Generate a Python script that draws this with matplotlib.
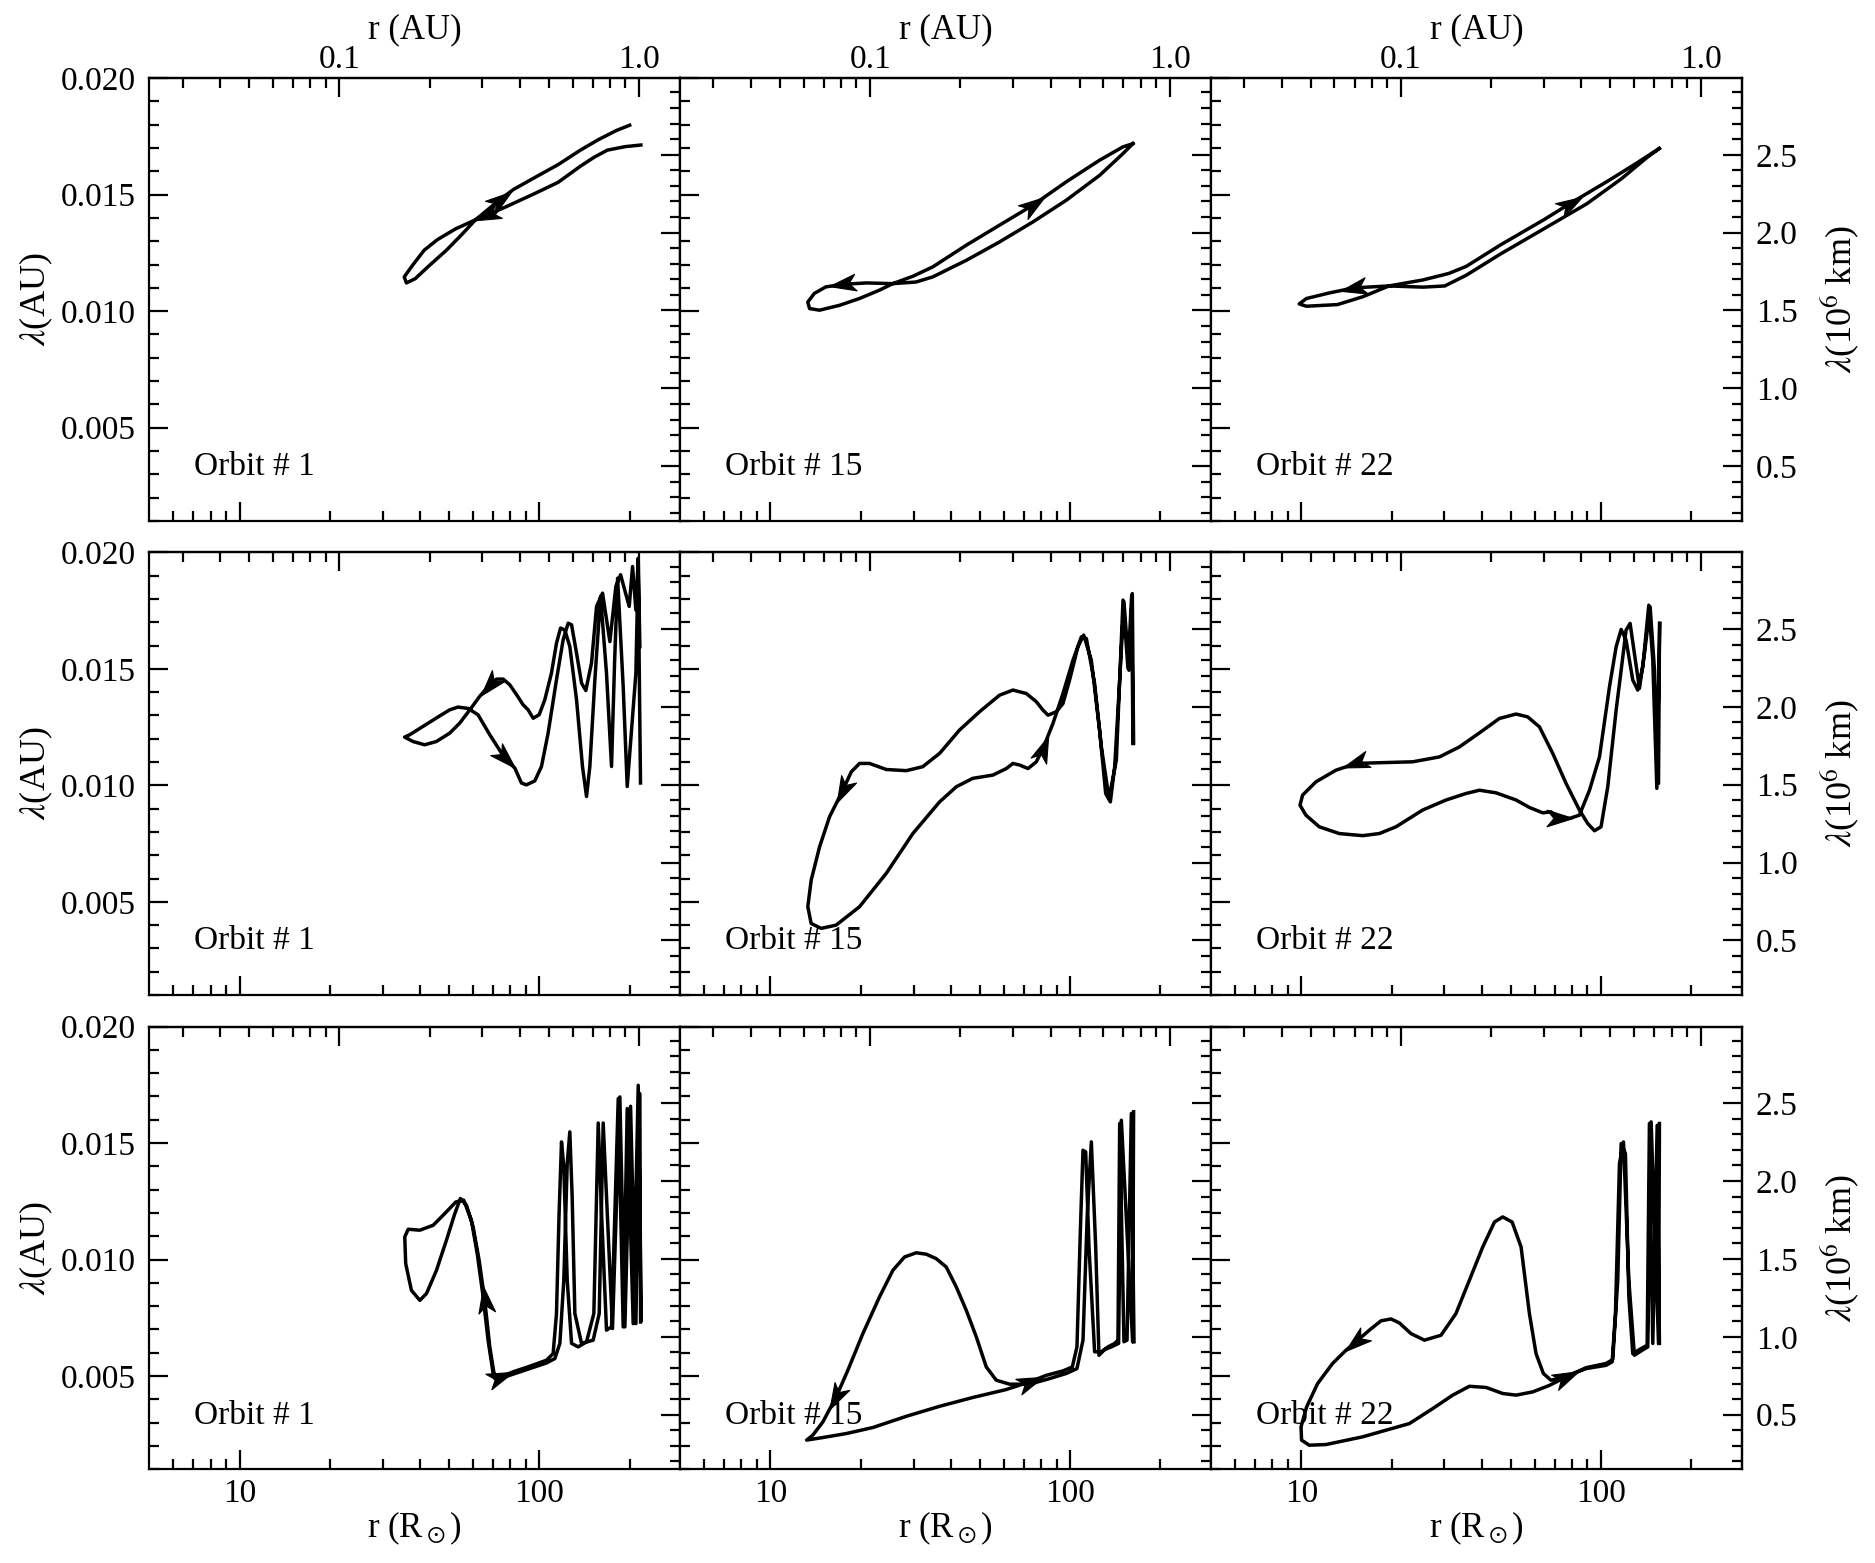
import numpy as np
import matplotlib
matplotlib.use('Agg')
import matplotlib.pyplot as plt
from matplotlib.ticker import MultipleLocator, NullFormatter
from matplotlib.path import Path
from matplotlib.markers import MarkerStyle
from matplotlib.transforms import Affine2D

plt.rcParams['font.family'] = ['Liberation Serif', 'DejaVu Serif']
plt.rcParams['mathtext.fontset'] = 'stix'
plt.rcParams['font.size'] = 12

R_AU = 215.03     # solar radii per AU
KM_AU = 149.598   # 10^6 km per AU

orbits = ['1', '15', '22']

# ---- row 1 ----
r11 = [218, 193.2, 168.5, 152, 137, 115.5, 97.3, 76.5, 66.7, 61.2, 52.5, 45.7, 41.3, 37.9, 35.4, 36.0,
       38.5, 42.7, 49.0, 55.2, 61.2, 73.9, 81.9, 97.3, 115.5, 137, 157.3, 180.4, 200]
l11 = [0.01713, 0.01706, 0.01691, 0.01660, 0.01622, 0.01553, 0.01507, 0.01445, 0.01412, 0.01392, 0.01353,
       0.01307, 0.01262, 0.01200, 0.01147, 0.01121, 0.01139, 0.01193, 0.01262, 0.01330, 0.01392, 0.01479,
       0.01522, 0.01576, 0.01629, 0.01691, 0.01736, 0.01775, 0.01798]
a11 = [8, 21]

r12 = [161.9, 149.9, 125.4, 97.0, 75.1, 58.1, 45.0, 34.8, 30.6, 25.6, 20.9, 17.4, 15.3, 14.0, 13.32, 13.5,
       14.58, 17.0, 19.8, 23.1, 25.6, 29.9, 34.8, 45.0, 58.1, 75.1, 97.0, 125.4, 149.9, 161.9]
l12 = [0.01719, 0.01676, 0.01583, 0.01476, 0.01383, 0.01297, 0.01218, 0.01147, 0.01125, 0.01118, 0.01121,
       0.01115, 0.01104, 0.01076, 0.01039, 0.01011, 0.01004, 0.01025, 0.01054, 0.01090, 0.01118, 0.01150,
       0.01190, 0.01283, 0.01369, 0.01455, 0.01555, 0.01648, 0.01705, 0.01719]
a12 = [11, 25]

r13 = [156.4, 142.5, 116.9, 89.7, 64.4, 46.3, 35.5, 30.1, 25.5, 19.6, 15.0, 12.3, 10.4, 9.84, 10.4, 13.2,
       16.06, 19.6, 25.5, 31.1, 35.5, 46.3, 64.4, 78.6, 105.9, 129.1, 156.4]
l13 = [0.01698, 0.01660, 0.01568, 0.01461, 0.01353, 0.01246, 0.01154, 0.01108, 0.01103, 0.01108, 0.01100,
       0.01077, 0.01054, 0.01031, 0.01021, 0.01028, 0.01062, 0.01108, 0.01134, 0.01162, 0.01192, 0.01285,
       0.01392, 0.01461, 0.01560, 0.01629, 0.01698]
a13 = [10, 23]

# ---- row 2 ----
r21 = [217.4, 215.3, 213.6, 209.8, 196.3, 190.3, 182.3, 178.1, 174.0, 167.4,
       159.9, 153.1, 147.3, 143.6, 139.2, 133.0, 126.3, 121.5, 117.6, 114.0,
       109.7, 104.2, 99.8, 95.3, 91.7, 88.2, 83.9, 79.6, 75.7, 71.9,
       68.3, 63.2, 58.6, 54.2, 50.2, 45.3, 41.4, 37.9, 35.5, 36.9,
       40.9, 46.5, 50.2, 53.5, 57.8, 62.4, 68.3, 76.6, 82.8, 87.1,
       90.5, 96.5, 101.6, 106.9, 114.0, 120.0, 124.7, 128.0, 133.0, 138.2,
       142.8, 149.2, 155.1, 162.4, 171.8, 179.9, 186.5, 199.3, 204.5, 209.8,
       213.6, 216.3]
l21 = [0.01010, 0.01496, 0.01961, 0.01482, 0.00995, 0.01424, 0.01889, 0.01525, 0.01081, 0.01482,
       0.01811, 0.01453, 0.01081, 0.00952, 0.01081, 0.01367, 0.01596, 0.01667, 0.01675, 0.01610,
       0.01482, 0.01367, 0.01303, 0.01288, 0.01324, 0.01346, 0.01389, 0.01432, 0.01456, 0.01456,
       0.01432, 0.01382, 0.01324, 0.01267, 0.01224, 0.01188, 0.01174, 0.01188, 0.01207, 0.01217,
       0.01253, 0.01298, 0.01324, 0.01336, 0.01330, 0.01303, 0.01217, 0.01117, 0.01074, 0.01010,
       0.01002, 0.01019, 0.01081, 0.01224, 0.01453, 0.01625, 0.01696, 0.01689, 0.01567, 0.01439,
       0.01407, 0.01525, 0.01768, 0.01825, 0.01617, 0.01854, 0.01904, 0.01768, 0.01939, 0.01753,
       0.01975, 0.01596]
a21 = [30, 47]

r22 = [162.7, 161.1, 157.0, 151.1, 146.2, 140.7, 136.1, 131.3, 125.3, 117.6,
       110.9, 106.1, 99.5, 94.56, 89.9, 84.3, 81.1, 77.06, 71.4, 64.4,
       58.1, 49.84, 42.7, 36.65, 32.2, 28.4, 24.33, 21.40, 19.82, 18.60,
       17.43, 15.74, 14.58, 13.67, 13.32, 13.67, 14.76, 16.56, 19.82, 24.33,
       29.85, 36.65, 41.7, 47.3, 55.21, 61.2, 64.4, 67.8, 72.3, 77.06,
       81.1, 87.6, 94.56, 102.1, 108.9, 113.2, 120.6, 127.0, 134.7, 142.5,
       150.0, 155.8, 160.3, 161.9]
l22 = [0.01180, 0.01823, 0.01494, 0.01788, 0.01452, 0.01080, 0.00929, 0.00965, 0.01237, 0.01537,
       0.01645, 0.01595, 0.01452, 0.01351, 0.01316, 0.01301, 0.01323, 0.01359, 0.01394, 0.01409,
       0.01387, 0.01316, 0.01237, 0.01137, 0.01080, 0.01063, 0.01068, 0.01094, 0.01094, 0.01058,
       0.00979, 0.00865, 0.00736, 0.00593, 0.00479, 0.00407, 0.00386, 0.00400, 0.00479, 0.00622,
       0.00793, 0.00929, 0.00994, 0.01030, 0.01044, 0.01072, 0.01094, 0.01087, 0.01072, 0.01101,
       0.01158, 0.01266, 0.01394, 0.01537, 0.01637, 0.01630, 0.01437, 0.01165, 0.00944, 0.01108,
       0.01795, 0.01502, 0.01816, 0.01180]
a22 = [30, 50]

r23 = [156.7, 155.5, 150.8, 145.8, 139.6, 134.3, 129.2, 125.0, 121.2, 116.7,
       112.3, 105.3, 100.0, 95.1, 90.3, 84.7, 76.45, 69.0, 62.3, 56.9,
       52.07, 45.8, 39.28, 33.7, 28.9, 23.53, 18.2, 15.22, 13.05, 11.19,
       10.10, 9.90, 10.36, 11.48, 13.39, 16.02, 18.2, 20.70, 25.41, 30.4,
       35.45, 39.28, 44.6, 52.07, 57.68, 63.9, 68.1, 72.6, 78.45, 84.7,
       91.5, 98.8, 106.7, 112.3, 116.7, 121.2, 127.6, 132.6, 137.8, 144.3,
       148.8, 153.5, 157.0]
l23 = [0.01695, 0.01008, 0.01494, 0.01766, 0.01566, 0.01416, 0.01566, 0.01695, 0.01666, 0.01494,
       0.01323, 0.00994, 0.00822, 0.00805, 0.00836, 0.00894, 0.01008, 0.01137, 0.01251, 0.01294,
       0.01306, 0.01287, 0.01225, 0.01165, 0.01122, 0.01101, 0.01097, 0.01094, 0.01065, 0.01015,
       0.00958, 0.00915, 0.00872, 0.00822, 0.00793, 0.00784, 0.00793, 0.00822, 0.00894, 0.00937,
       0.00965, 0.00979, 0.00968, 0.00937, 0.00905, 0.00882, 0.00886, 0.00858, 0.00858, 0.00872,
       0.00979, 0.01122, 0.01423, 0.01595, 0.01669, 0.01623, 0.01452, 0.01409, 0.01509, 0.01773,
       0.01537, 0.00987, 0.01695]
a23 = [27, 47]

# ---- row 3 ----
r31 = [217.5, 216.3, 209.8, 201.4, 192.8, 185.5, 175.3, 163.2, 158.3, 151.1,
       138.2, 131.3, 128.6, 126.3, 123.8, 120.6, 117.0, 112.6, 105.6, 92.9,
       81.7, 73.8, 71.0, 68.3, 65.7, 62.93, 60.09, 57.1, 54.5, 52.2,
       48.95, 45.35, 42.0, 39.9, 37.4, 35.8, 35.54, 36.5, 39.9, 44.19,
       48.3, 52.6, 55.9, 59.3, 62.0, 64.9, 67.4, 70.1, 73.8, 81.7,
       92.9, 105.6, 111.1, 114.0, 116.3, 118.5, 120.6, 123.8, 128.0, 134.7,
       143.6, 151.9, 157.1, 161.2, 167.4, 174.0, 183.2, 190.3, 196.3, 205.5,
       213.6, 218.7]
l31 = [0.00732, 0.01712, 0.00725, 0.01658, 0.00711, 0.01698, 0.00704, 0.01586, 0.00768, 0.00654,
       0.00640, 0.00768, 0.01269, 0.01548, 0.01412, 0.00911, 0.00640, 0.00575, 0.00556, 0.00532,
       0.00508, 0.00489, 0.00489, 0.00625, 0.00825, 0.00997, 0.01140, 0.01233, 0.01262, 0.01197,
       0.01083, 0.00954, 0.00854, 0.00825, 0.00868, 0.00983, 0.01097, 0.01130, 0.01126, 0.01147,
       0.01197, 0.01247, 0.01255, 0.01169, 0.01026, 0.00840, 0.00654, 0.00511, 0.00496, 0.00518,
       0.00542, 0.00568, 0.00596, 0.00768, 0.01197, 0.01505, 0.01398, 0.00911, 0.00640, 0.00625,
       0.00647, 0.00768, 0.01586, 0.01197, 0.00697, 0.00711, 0.01691, 0.00711, 0.01648, 0.00725,
       0.01748, 0.00740]
a31 = [24, 48]

r32 = [162.7, 161.5, 148.1, 145.0, 137.1, 130.3, 124.7, 121.6, 117.6, 114.0,
       110.3, 105.3, 97.0, 85.35, 73.2, 62.8, 56.66, 52.47, 48.6, 45.0,
       41.68, 38.58, 35.7, 33.08, 30.63, 28.0, 25.61, 23.11, 20.33, 18.12,
       16.56, 14.95, 13.84, 13.2, 14.95, 17.89, 21.96, 28.37, 36.65, 47.34,
       61.17, 73.2, 83.2, 94.56, 101.6, 105.3, 108.1, 110.3, 112.6, 115.5,
       120.6, 127.0, 133.6, 140.7, 144.3, 146.2, 151.1, 154.7, 159.9, 163.2]
l32 = [0.01634, 0.00647, 0.01598, 0.00640, 0.00625, 0.00614, 0.00589, 0.01054, 0.01505, 0.01197,
       0.00654, 0.00532, 0.00511, 0.00489, 0.00465, 0.00465, 0.00482, 0.00539, 0.00668, 0.00782,
       0.00882, 0.00968, 0.01004, 0.01023, 0.01029, 0.01011, 0.00954, 0.00840, 0.00682, 0.00525,
       0.00410, 0.00303, 0.00246, 0.00225, 0.00236, 0.00253, 0.00279, 0.00327, 0.00370, 0.00408,
       0.00442, 0.00475, 0.00503, 0.00522, 0.00539, 0.00625, 0.01126, 0.01469, 0.01462, 0.01054,
       0.00604, 0.00604, 0.00625, 0.00640, 0.00654, 0.01584, 0.00647, 0.00654, 0.01627, 0.00647]
a32 = [30, 41]

r33 = [156.6, 155.5, 146.9, 143.2, 136.1, 129.2, 123.8, 118.8, 115.2, 111.7,
       108.9, 104.0, 89.2, 76.45, 68.1, 64.2, 60.7, 57.68, 54.1, 50.5,
       46.99, 44.1, 40.3, 36.37, 32.8, 29.25, 25.74, 23.23, 21.24, 19.92,
       18.45, 16.87, 15.22, 14.1, 12.72, 11.34, 10.42, 9.98, 10.02, 10.63,
       12.09, 16.02, 22.94, 27.43, 32.0, 36.37, 41.35, 46.99, 52.07, 59.2,
       67.3, 76.45, 89.2, 104.0, 109.4, 113.7, 116.7, 120.6, 123.8, 127.6,
       136.1, 142.5, 145.0, 148.8, 153.9, 156.6]
l33 = [0.01584, 0.00640, 0.01591, 0.00625, 0.00608, 0.00589, 0.00911, 0.01505, 0.01412, 0.00768,
       0.00561, 0.00546, 0.00532, 0.00499, 0.00482, 0.00511, 0.00596, 0.00768, 0.01054, 0.01161,
       0.01183, 0.01161, 0.01054, 0.00911, 0.00768, 0.00675, 0.00654, 0.00682, 0.00728, 0.00745,
       0.00737, 0.00697, 0.00647, 0.00611, 0.00554, 0.00468, 0.00368, 0.00282, 0.00225, 0.00203,
       0.00206, 0.00239, 0.00296, 0.00360, 0.00418, 0.00456, 0.00451, 0.00425, 0.00418, 0.00432,
       0.00460, 0.00496, 0.00536, 0.00554, 0.00571, 0.00911, 0.01498, 0.01455, 0.00840, 0.00596,
       0.00618, 0.00632, 0.01584, 0.00640, 0.01576, 0.00640]
a33 = [32, 51]

panels = [[(r11, l11, a11), (r12, l12, a12), (r13, l13, a13)],
          [(r21, l21, a21), (r22, l22, a22), (r23, l23, a23)],
          [(r31, l31, a31), (r32, l32, a32), (r33, l33, a33)]]

# stealth-like arrow head
head = Path([(1, 0), (-0.9, 0.6), (-0.4, 0), (-0.9, -0.6), (1, 0)],
            [Path.MOVETO, Path.LINETO, Path.LINETO, Path.LINETO, Path.CLOSEPOLY])


def add_arrow(ax, x, y, i):
    p0 = ax.transData.transform((x[i], y[i]))
    p1 = ax.transData.transform((x[i + 1], y[i + 1]))
    ang = np.degrees(np.arctan2(p1[1] - p0[1], p1[0] - p0[0]))
    m = MarkerStyle(head, transform=Affine2D().rotate_deg(ang))
    ax.plot(x[i], y[i], marker=m, ms=10, color='k', mew=0.4, zorder=5)


fig, axes = plt.subplots(3, 3, figsize=(9.375, 7.815), dpi=200)
fig.subplots_adjust(left=0.0797, right=0.929, top=0.950, bottom=0.060, wspace=0, hspace=0.0713)

au_major = [0.1, 1.0]
au_minor = [0.03, 0.04, 0.05, 0.06, 0.07, 0.08, 0.09, 0.2, 0.3, 0.4, 0.5, 0.6, 0.7, 0.8, 0.9]
r_minor = [6, 7, 8, 9, 20, 30, 40, 50, 60, 70, 80, 90, 200]
km_major = [0.5, 1.0, 1.5, 2.0, 2.5]
km_minor = np.round(np.arange(2, 30) * 0.1, 1)
lam_major = [0.005, 0.010, 0.015, 0.020]

for row in range(3):
    for col in range(3):
        ax = axes[row, col]
        r, lam, arrows = panels[row][col]
        ax.set_xscale('log')
        ax.set_xlim(5, 295)
        ax.set_ylim(0.001, 0.020)

        ax.set_xticks([10, 100], labels=['10', '100'] if row == 2 else ['', ''])
        ax.set_xticks(r_minor, minor=True)
        ax.xaxis.set_minor_formatter(NullFormatter())
        ax.set_yticks(lam_major, labels=['%.3f' % v for v in lam_major] if col == 0 else [''] * 4)
        ax.yaxis.set_minor_locator(MultipleLocator(0.001))
        ax.tick_params(which='both', direction='in', top=False, right=False, width=0.8)
        ax.tick_params(which='major', length=7)
        ax.tick_params(axis='x', which='major', pad=3.5)
        ax.tick_params(axis='y', which='major', pad=5)
        ax.tick_params(which='minor', length=3.5)
        for s in ax.spines.values():
            s.set_linewidth(0.8)

        sx = ax.secondary_xaxis('top', functions=(lambda x: x / R_AU, lambda a: a * R_AU))
        sx.set_ticks(au_major, labels=['0.1', '1.0'] if row == 0 else ['', ''])
        sx.set_ticks(au_minor, minor=True)
        sx.xaxis.set_minor_formatter(NullFormatter())
        sx.tick_params(which='both', direction='in', width=0.8)
        sx.tick_params(which='major', length=7, pad=1)
        sx.tick_params(which='minor', length=3.5)
        sx.spines['top'].set_linewidth(0.8)

        sy = ax.secondary_yaxis('right', functions=(lambda v: v * KM_AU, lambda k: k / KM_AU))
        sy.set_ticks(km_major, labels=['%.1f' % v for v in km_major] if col == 2 else [''] * 5)
        sy.set_ticks(km_minor, minor=True)
        sy.yaxis.set_minor_formatter(NullFormatter())
        sy.tick_params(which='both', direction='in', width=0.8)
        sy.tick_params(which='major', length=7, pad=5)
        sy.tick_params(which='minor', length=3.5)
        sy.spines['right'].set_linewidth(0.8)

        if col == 0:
            ax.set_ylabel(r'$\lambda$(AU)', fontsize=13, labelpad=2)
        if col == 2:
            sy.set_ylabel(r'$\lambda$(10$^6$ km)', fontsize=13, labelpad=7.5)
        if row == 0:
            sx.set_xlabel('r (AU)', fontsize=12.5, labelpad=2.5)
        if row == 2:
            ax.set_xlabel(r'r (R$_\odot$)', fontsize=12.5, labelpad=0)

        ax.plot(r, lam, color='k', lw=1.25, solid_joinstyle='round', zorder=3)
        for i in arrows:
            add_arrow(ax, r, lam, i)

        ax.text(0.084, 0.103, 'Orbit # ' + orbits[col], transform=ax.transAxes, fontsize=12)

fig.savefig('out.png', dpi=200)
